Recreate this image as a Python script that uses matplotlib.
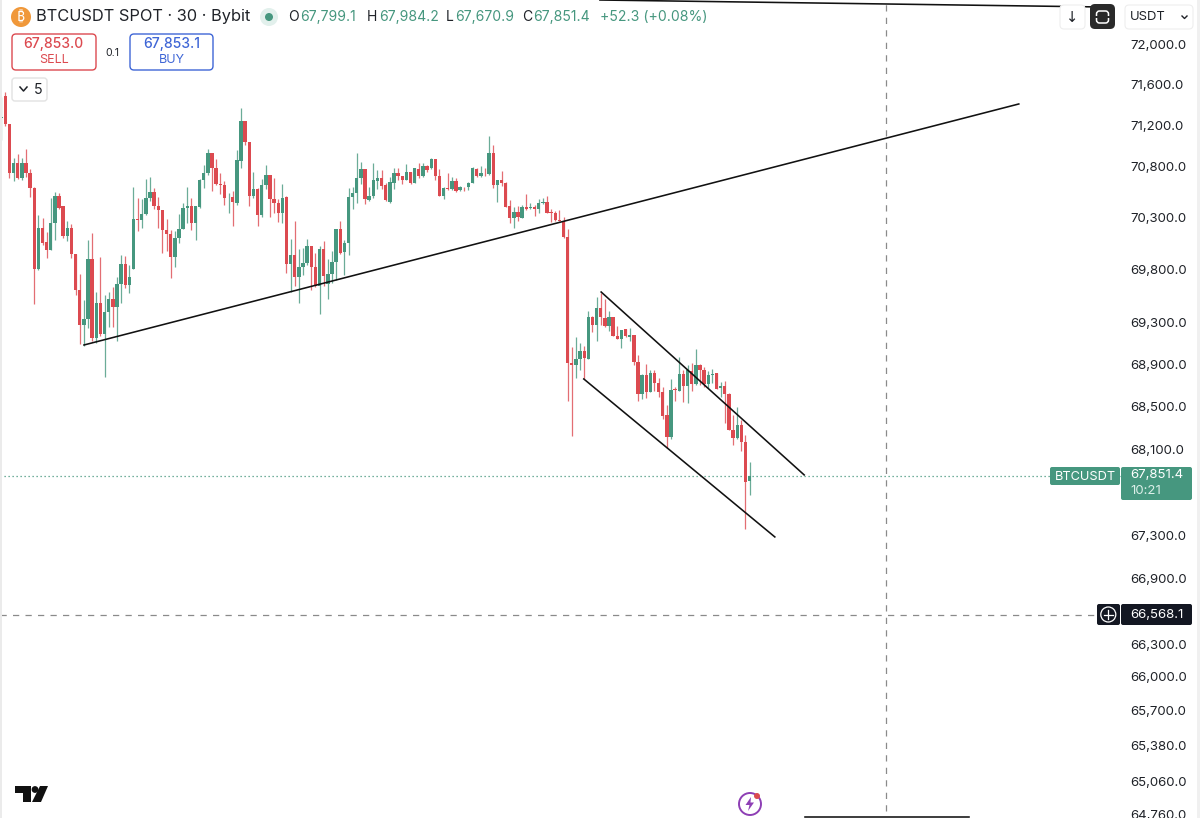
import matplotlib
matplotlib.use("Agg")
import matplotlib.pyplot as plt
import numpy as np
from matplotlib.patches import Circle, FancyBboxPatch, Polygon, Rectangle
from matplotlib.ticker import NullLocator

plt.rcParams['font.family'] = ['Inter', 'DejaVu Sans']

# 30m candles
opens = [71270, 71488, 71216, 70731, 70828, 70689, 70828, 70737, 70588, 69812,
         70200, 70064, 69987, 70252, 70511, 70414, 70129, 70203, 69954, 69605,
         69275, 69333, 69903, 69146, 69485, 69191, 69398, 69518, 69443, 69660,
         69854, 69654, 69812, 70284, 70278, 70339, 70488, 70553, 70414, 70375,
         70187, 70148, 69919, 70106, 70197, 70391, 70414, 70246, 70408, 70666,
         70737, 70925, 70779, 70631, 70615, 70489, 70498, 70447, 70850, 71241,
         71035, 70511, 70582, 70324, 70615, 70712, 70479, 70447, 70343, 70505,
         69859, 69943, 69730, 69823, 69865, 70027, 69827, 69646, 70004, 69665,
         69762, 69872, 70188, 69969, 70059, 70505, 70544, 70689, 70776, 70473,
         70511, 70657, 70683, 70615, 70451, 70642, 70739, 70707, 70668, 70749,
         70636, 70772, 70707, 70801, 70781, 70869, 70707, 70516, 70587, 70581,
         70658, 70571, 70603, 70597, 70642, 70778, 70707, 70739, 70726, 70927,
         70619, 70662, 70636, 70415, 70295, 70360, 70302, 70402, 70393, 70409,
         70383, 70441, 70457, 70354, 70350, 70279, 70273, 70112, 68915, 68890,
         68948, 69027, 68951, 69353, 69268, 69433, 69341, 69258, 69344, 69169,
         69141, 69233, 69157, 69173, 68916, 68616, 68798, 68641, 68818, 68725,
         68641, 68422, 68218, 68662, 68650, 68805, 68694, 68840, 68712, 68894,
         68846, 68712, 68798, 68814, 68678, 68694, 68619, 68281, 68203, 68322,
         68165, 67799.1]
highs = [71481, 71530, 71216, 70883, 70915, 70883, 70970, 70770, 70601, 70323,
         70301, 70161, 70495, 70550, 70543, 70414, 70268, 70236, 69954, 69760,
         69514, 70084, 70155, 69589, 69919, 69556, 69589, 69637, 69734, 69945,
         69935, 69848, 70601, 70495, 70478, 70679, 70698, 70592, 70501, 70375,
         70284, 70187, 70171, 70333, 70446, 70601, 70495, 70414, 70673, 70812,
         70970, 70931, 70873, 70731, 70657, 70537, 70560, 70954, 71367, 71241,
         71035, 70747, 70592, 70673, 70812, 70712, 70689, 70479, 70624, 70511,
         70098, 70269, 70001, 70011, 70098, 70033, 69962, 70027, 70075, 69904,
         69978, 70195, 70269, 70091, 70592, 70602, 70925, 70841, 70776, 70602,
         70828, 70763, 70763, 70640, 70691, 70788, 70781, 70710, 70824, 70749,
         70788, 70830, 70830, 70814, 70879, 70869, 70772, 70603, 70733, 70694,
         70684, 70610, 70603, 70652, 70791, 70781, 70804, 70788, 71096, 71008,
         70668, 70755, 70652, 70474, 70402, 70419, 70425, 70529, 70448, 70425,
         70480, 70496, 70512, 70386, 70370, 70376, 70305, 70189, 69060, 69157,
         69100, 69077, 69401, 69360, 69537, 69582, 69518, 69401, 69347, 69258,
         69227, 69236, 69242, 69173, 68986, 68805, 68903, 68846, 68846, 68767,
         68687, 68515, 68760, 68687, 68967, 68846, 68894, 68910, 69043, 68903,
         68871, 68840, 68852, 68821, 68734, 68741, 68625, 68422, 68500, 68375,
         68228, 67984.2]
lows = [71061, 71197, 70689, 70656, 70679, 70666, 70698, 70504, 69476, 69793,
        70042, 69909, 69987, 70090, 70381, 70106, 70074, 69912, 69556, 69094,
        69071, 69243, 69120, 69104, 69168, 68774, 69249, 69249, 69120, 69485,
        69621, 69582, 69806, 70171, 70203, 70323, 70462, 70388, 70203, 69961,
        69977, 69718, 69831, 70058, 70194, 70252, 70182, 70085, 70398, 70592,
        70712, 70560, 70615, 70527, 70421, 70350, 70221, 70424, 70779, 71012,
        70414, 70495, 70221, 70311, 70582, 70311, 70350, 70259, 70246, 69768,
        69591, 69646, 69478, 69752, 69849, 69607, 69639, 69381, 69646, 69520,
        69672, 69704, 69956, 69752, 69946, 70382, 70447, 70624, 70431, 70463,
        70495, 70576, 70576, 70463, 70448, 70581, 70668, 70629, 70662, 70626,
        70636, 70684, 70700, 70749, 70772, 70668, 70512, 70483, 70571, 70571,
        70555, 70564, 70564, 70571, 70636, 70700, 70700, 70707, 70717, 70587,
        70457, 70610, 70402, 70247, 70198, 70273, 70295, 70376, 70389, 70318,
        70350, 70435, 70344, 70263, 70273, 70269, 70109, 68556, 68225, 68767,
        68846, 68760, 68948, 69201, 69122, 69274, 69252, 69211, 69163, 69138,
        69058, 69157, 69122, 68890, 68556, 68569, 68578, 68634, 68650, 68587,
        68384, 68109, 68193, 68556, 68650, 68547, 68537, 68650, 68703, 68703,
        68687, 68672, 68725, 68662, 68594, 68343, 68281, 68140, 68193, 68078,
        67353, 67670.9]
closes = [71280, 71216, 70731, 70828, 70689, 70828, 70731, 70588, 69812, 70200,
          70058, 69987, 70252, 70511, 70398, 70123, 70203, 69948, 69605, 69275,
          69333, 69903, 69146, 69485, 69191, 69398, 69518, 69443, 69660, 69854,
          69654, 69728, 70284, 70278, 70339, 70488, 70553, 70414, 70375, 70187,
          70148, 69919, 70106, 70197, 70391, 70414, 70246, 70414, 70666, 70737,
          70925, 70779, 70631, 70615, 70489, 70495, 70453, 70857, 71241, 71035,
          70511, 70582, 70324, 70615, 70712, 70479, 70447, 70343, 70495, 69859,
          69943, 69730, 69823, 69865, 70027, 69827, 69646, 70004, 69743, 69762,
          69872, 70188, 69962, 70059, 70505, 70544, 70689, 70776, 70479, 70511,
          70663, 70683, 70608, 70473, 70645, 70739, 70707, 70668, 70749, 70636,
          70781, 70707, 70807, 70765, 70869, 70707, 70516, 70587, 70577, 70658,
          70564, 70597, 70597, 70642, 70788, 70707, 70730, 70733, 70927, 70619,
          70662, 70636, 70409, 70295, 70360, 70305, 70402, 70389, 70409, 70389,
          70448, 70457, 70350, 70350, 70279, 70273, 70112, 68915, 68890, 68948,
          69027, 68957, 69353, 69268, 69433, 69344, 69258, 69344, 69169, 69141,
          69227, 69163, 69173, 68916, 68619, 68798, 68641, 68818, 68725, 68641,
          68415, 68218, 68656, 68653, 68805, 68694, 68846, 68712, 68894, 68846,
          68712, 68798, 68805, 68662, 68694, 68619, 68281, 68203, 68322, 68165,
          67797, 67851.4]

price_ticks = [72000, 71600, 71200, 70800, 70300, 69800, 69300, 68900, 68500, 68100,
               67300, 66900, 66300, 66000, 65700, 65380, 65060, 64760]

# hand drawn lines: (bar, price) pairs
rising_line = ([20.03, 246.1], [69082, 71409])
channel_top = ([145.1, 194.2], [69587, 67859])
channel_bottom = ([140.9, 187.1], [68760, 67283])
top_line = ([144.8, 266.9], [72437, 72367])
bottom_line = ([194.4, 234.1], [64742, 64742])

last_price = 67851.4
marked_price = 66568.1
crosshair_bar = 214.0

GREEN = '#46977F'
RED = '#DC4A50'
DARK = '#131722'
TEXT = '#1f2228'

fig = plt.figure(figsize=(12, 8.18), dpi=100)
ax = fig.add_axes([0, 0, 1122 / 1200, 1])
ax.patch.set_visible(False)

bars = np.arange(len(opens))
opens = np.array(opens)
closes = np.array(closes)
colors = [GREEN if c >= o else RED for o, c in zip(opens, closes)]

ax.vlines(bars, lows, highs, colors=colors, linewidth=0.9, alpha=0.8, zorder=2)
ax.bar(bars, np.abs(closes - opens), bottom=np.minimum(opens, closes), width=0.82,
       color=colors, linewidth=0, zorder=3)

for line in [rising_line, channel_top, channel_bottom, top_line, bottom_line]:
    ax.plot(line[0], line[1], color='#111111', linewidth=1.15, zorder=4, clip_on=False)

ax.axhline(last_price, color=GREEN, linewidth=0.9, linestyle=(0, (1, 2.2)), zorder=1)
ax.axhline(marked_price, color='#8a8a8a', linewidth=0.9, linestyle=(0, (5, 5)), zorder=1)
ax.axvline(crosshair_bar, ymin=0.008, color='#8a8a8a', linewidth=0.9, linestyle=(0, (5, 5)), zorder=1)

ax.set_yscale('log')
ax.set_xlim(-0.283, 271.06)
ax.set_ylim(64733, 72437)
ax.yaxis.tick_right()
ax.yaxis.set_minor_locator(NullLocator())
ax.set_yticks(price_ticks)
ax.set_yticklabels([f'{p:,.1f}' for p in price_ticks], fontsize=9.5, color=TEXT)
ax.tick_params(axis='y', length=0, pad=6)
ax.set_xticks([])
for side in ax.spines.values():
    side.set_visible(False)

# everything around the chart, in pixel coordinates
ui = fig.add_axes([0, 0, 1, 1])
ui.set_xlim(0, 1200)
ui.set_ylim(818, 0)
ui.axis('off')


def box(x0, y0, x1, y1, face='white', edge='none', lw=1.0, rad=4):
    ui.add_patch(FancyBboxPatch((x0 + rad, y0 + rad), x1 - x0 - 2 * rad, y1 - y0 - 2 * rad,
                                boxstyle=f'round,pad={rad},rounding_size={rad}',
                                facecolor=face, edgecolor=edge, linewidth=lw))


ui.add_patch(Rectangle((0, 0), 2, 818, color='#ebebeb', linewidth=0))
ui.add_patch(Rectangle((1197, 0), 3, 818, color='#f0f0f0', linewidth=0))

# title row
ui.add_patch(Circle((21, 17), 10, color='#F0983A', linewidth=0))
ui.text(21, 17.5, '₿', color='white', fontsize=10, ha='center', va='center', weight='bold',
        family=['Noto Sans', 'Roboto', 'Open Sans', 'Lato', 'Liberation Sans', 'Noto Sans CJK SC', 'DejaVu Sans'])
ui.text(36, 17, 'BTCUSDT SPOT · 30 · Bybit', fontsize=11.8, color=TEXT, va='center')
ui.add_patch(Circle((269, 17), 9, color='#e2f0ec', linewidth=0))
ui.add_patch(Circle((269, 17), 4, color=GREEN, linewidth=0))

ohlc_letters = [(288, 'O'), (367, 'H'), (446, 'L'), (522, 'C')]
ohlc_values = [(300, '67,799.1'), (379, '67,984.2'), (455, '67,670.9'), (533, '67,851.4'), (600.5, '+52.3 (+0.08%)')]
for x, s in ohlc_letters:
    ui.text(x, 17, s, fontsize=10, color=TEXT, va='center')
for x, s in ohlc_values:
    ui.text(x, 17, s, fontsize=10.1, color=GREEN, va='center')

# sell / buy buttons
box(12, 34, 96, 70, edge=RED, lw=1.0)
ui.text(53.5, 44, '67,853.0', fontsize=10, color=RED, ha='center', va='center', weight='medium')
ui.text(53.5, 60, 'SELL', fontsize=9, color=RED, ha='center', va='center')
ui.text(112, 52.5, '0.1', fontsize=7.6, color=TEXT, ha='center', va='center')
box(130, 34, 213, 70, edge='#3F66D6', lw=1.0)
ui.text(171.5, 44, '67,853.1', fontsize=10, color='#3F66D6', ha='center', va='center', weight='medium')
ui.text(171.5, 60, 'BUY', fontsize=9, color='#3F66D6', ha='center', va='center')

box(12, 78, 47, 101, edge='#e2e2e2', lw=1.0, rad=3)
ui.plot([20, 23.5, 27], [87, 91, 87], color=TEXT, linewidth=1.1)
ui.text(38, 90, '5', fontsize=10.2, color=TEXT, ha='center', va='center')

# top right buttons
box(1060, 5, 1085, 29, edge='#eeeeee', lw=0.8, rad=4)
ui.text(1072.5, 17, '↓', fontsize=10.5, color=TEXT, ha='center', va='center', family='DejaVu Sans')
box(1090, 4, 1115, 29, face='#2a2a2a', rad=5)
box(1096.5, 11, 1108.5, 23, face='none', edge='white', lw=1.1, rad=3)
ui.add_patch(Rectangle((1095, 16), 15, 2, color='#2a2a2a', linewidth=0))
box(1125, 5, 1193, 29, edge='#eeeeee', lw=0.8, rad=4)
ui.text(1130, 17.5, 'USDT', fontsize=9.4, color=TEXT, va='center')
ui.plot([1182, 1184.5, 1187], [16, 18.5, 16], color=TEXT, linewidth=1.0)

# price tags
box(1050, 467, 1120, 485, face=GREEN, rad=2)
ui.text(1085, 476.5, 'BTCUSDT', fontsize=9.2, color='white', ha='center', va='center')
box(1121, 467, 1192, 500, face=GREEN, rad=2)
ui.text(1130, 475.5, '67,851.4', fontsize=9.5, color='white', va='center')
ui.text(1130, 491, '10:21', fontsize=9.5, color='#dcefe9', va='center')

box(1097, 604, 1120, 625, face=DARK, rad=2)
ui.add_patch(Circle((1108.3, 614.5), 7.5, facecolor='none', edgecolor='white', linewidth=0.9))
ui.plot([1104, 1112.6], [614.5, 614.5], color='white', linewidth=0.9)
ui.plot([1108.3, 1108.3], [610.2, 618.8], color='white', linewidth=0.9)
box(1121, 604, 1192, 625, face=DARK, rad=2)
ui.text(1130, 614.5, f'{marked_price:,.1f}', fontsize=9.5, color='white', va='center')

# tradingview logo
ui.add_patch(Polygon([(15, 786), (31, 786), (31, 802), (23, 802), (23, 793), (15, 793)], color='#111111', linewidth=0))
ui.add_patch(Circle((35, 789.5), 3.4, color='#111111', linewidth=0))
ui.add_patch(Polygon([(40, 786), (48, 786), (41, 802), (32, 802)], color='#111111', linewidth=0))

# purple alert icon
ui.add_patch(Circle((750, 804), 11, facecolor='white', edgecolor='#8E3FB5', linewidth=1.4))
ui.add_patch(Polygon([(751, 797), (745.5, 805), (749.5, 805), (748, 811), (754, 802.5), (750.5, 802.5)],
                     color='#8E3FB5', linewidth=0))
ui.add_patch(Circle((757, 796), 3, color='#DC4A50', linewidth=0))

plt.savefig('out.png', dpi=100)
